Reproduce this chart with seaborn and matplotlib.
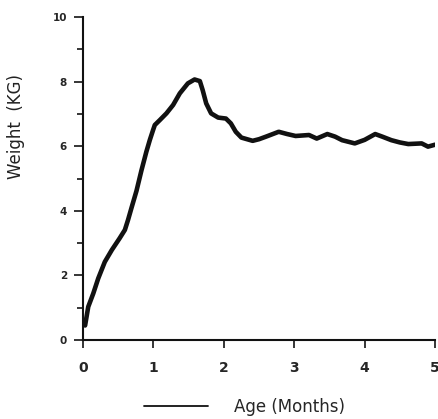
import matplotlib
matplotlib.use("Agg")
import matplotlib.pyplot as plt
import seaborn as sns
import pandas as pd
from matplotlib.lines import Line2D
from matplotlib.ticker import MultipleLocator

age_months = [0.03, 0.075, 0.146, 0.217, 0.31, 0.41, 0.52, 0.595, 0.64, 0.69,
              0.76, 0.83, 0.90, 0.95, 0.995, 1.02, 1.09, 1.185, 1.28, 1.375, 1.49,
              1.585, 1.66, 1.70, 1.75, 1.82, 1.92, 2.03, 2.10, 2.17, 2.25,
              2.41, 2.50, 2.60, 2.78, 2.90, 3.02, 3.21, 3.32, 3.47, 3.58,
              3.68, 3.86, 4.00, 4.15, 4.25, 4.38, 4.50, 4.62, 4.81, 4.90, 5.0]
weight_kg = [0.45, 1.03, 1.44, 1.91, 2.42, 2.79, 3.15, 3.41, 3.72, 4.10,
             4.62, 5.25, 5.83, 6.2, 6.5, 6.66, 6.81, 7.02, 7.28, 7.64, 7.95,
             8.07, 8.02, 7.74, 7.33, 7.02, 6.89, 6.86, 6.71, 6.45, 6.27,
             6.17, 6.22, 6.30, 6.45, 6.38, 6.32, 6.35, 6.24, 6.38, 6.30,
             6.19, 6.09, 6.20, 6.38, 6.30, 6.19, 6.12, 6.07, 6.09, 5.99, 6.05]
x_ticks = [0, 1, 2, 3, 4, 5]
y_ticks = [0, 2, 4, 6, 8, 10]
legend_label = "Age (Months)"
y_label = "Weight  (KG)"

df = pd.DataFrame({"age": age_months, "weight": weight_kg})

sns.set_style("ticks")
plt.rcParams["font.family"] = ["DejaVu Sans"]

fig = plt.figure(figsize=(4.39, 4.19), dpi=100)
ax = fig.add_axes([0.189, 0.1885, 0.802, 0.7705])

sns.lineplot(data=df, x="age", y="weight", ax=ax, color="#111111",
             linewidth=3.3, solid_capstyle="round", solid_joinstyle="round")

ax.set_xlim(0, 5)
ax.set_ylim(0, 10)
ax.set_xticks(x_ticks)
ax.set_yticks(y_ticks)
ax.yaxis.set_minor_locator(MultipleLocator(1))
ax.set_xticklabels([str(t) for t in x_ticks], fontsize=10, fontweight="bold")
ax.set_yticklabels([str(t) for t in y_ticks], fontsize=7.5, fontweight="bold")
ax.tick_params(axis="y", which="major", length=6.5, width=1.3, pad=5, direction="out")
ax.tick_params(axis="y", which="minor", length=4.5, width=1.3, direction="out")
ax.tick_params(axis="x", which="major", length=6, width=1.3, pad=9, direction="out")

sns.despine(ax=ax)
for s in ("left", "bottom"):
    ax.spines[s].set_linewidth(1.5)
    ax.spines[s].set_color("#111111")

ax.set_xlabel("")
ax.set_ylabel(y_label, fontsize=12, color="#222222")
ax.yaxis.set_label_coords(-0.165, 0.66)

handle = Line2D([], [], color="#111111", linewidth=1.3)
leg = ax.legend([handle], [legend_label], loc="center", bbox_to_anchor=(0.46, -0.207),
                frameon=False, fontsize=12, handlelength=3.8, handletextpad=1.6,
                borderaxespad=0, borderpad=0)

fig.savefig("out.png", dpi=100)
